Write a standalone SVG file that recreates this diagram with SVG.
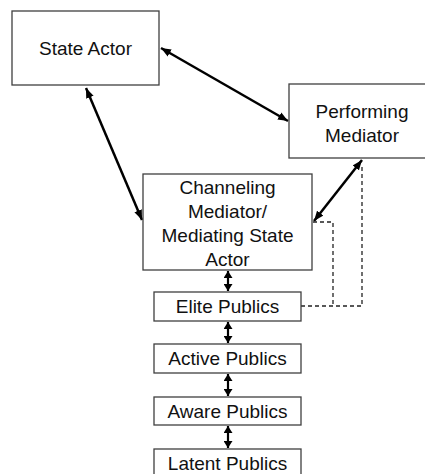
<svg xmlns="http://www.w3.org/2000/svg" width="425" height="474" viewBox="0 0 425 474">
<defs>
<style>
.box{fill:#fff;stroke:#3f3f3f;stroke-width:1.3}
.lbl{font-family:"Liberation Sans",Arial,sans-serif;font-size:19px;fill:#111;text-anchor:middle}
.big{stroke:#000;stroke-width:2.5;fill:none;marker-start:url(#ah);marker-end:url(#ah)}
.small{stroke:#000;stroke-width:2.2;fill:none;marker-start:url(#sh);marker-end:url(#sh)}
.dash{stroke:#222;stroke-width:1.3;fill:none;stroke-dasharray:4 3}
</style>
<marker id="ah" markerUnits="userSpaceOnUse" markerWidth="11" markerHeight="9" refX="10" refY="4" orient="auto-start-reverse" viewBox="0 0 11 8"><path d="M0,0 L10,4 L0,8 z" fill="#000"/></marker>
<marker id="sh" markerUnits="userSpaceOnUse" markerWidth="8" markerHeight="9" refX="7" refY="4.5" orient="auto-start-reverse" viewBox="0 0 8 9"><path d="M0,0 L7,4.5 L0,9 z" fill="#000"/></marker>
</defs>
<rect width="425" height="474" fill="#fff"/>
<g id="connectors">
<line class="big" x1="161" y1="48" x2="288" y2="121"/>
<line class="big" x1="86" y1="88" x2="142" y2="220"/>
<line class="big" x1="362" y1="160" x2="314" y2="221"/>
<line class="small" x1="228" y1="271" x2="228" y2="291"/>
<line class="small" x1="228" y1="322" x2="228" y2="343"/>
<line class="small" x1="228" y1="374" x2="228" y2="396"/>
<line class="small" x1="228" y1="426" x2="228" y2="448"/>
<path class="dash" d="M313,222 H333 V306"/>
<path class="dash" d="M301,306 H362 V165"/>
</g>
<g id="state-actor">
<rect class="box" x="12" y="11" width="147" height="74"/>
<text class="lbl" x="85.5" y="55">State Actor</text>
</g>
<g id="performing-mediator">
<rect class="box" x="289" y="84" width="146" height="74"/>
<text class="lbl" x="362" y="118">Performing</text>
<text class="lbl" x="362" y="142">Mediator</text>
</g>
<g id="channeling-mediator">
<rect class="box" x="143" y="174" width="169" height="96"/>
<text class="lbl" x="227.5" y="194">Channeling</text>
<text class="lbl" x="227.5" y="218">Mediator/</text>
<text class="lbl" x="227.5" y="242">Mediating State</text>
<text class="lbl" x="227.5" y="266">Actor</text>
</g>
<g id="elite-publics">
<rect class="box" x="154" y="292" width="147" height="29"/>
<text class="lbl" x="227.5" y="313">Elite Publics</text>
</g>
<g id="active-publics">
<rect class="box" x="154" y="344" width="147" height="29"/>
<text class="lbl" x="227.5" y="365">Active Publics</text>
</g>
<g id="aware-publics">
<rect class="box" x="154" y="397" width="147" height="28"/>
<text class="lbl" x="227.5" y="418">Aware Publics</text>
</g>
<g id="latent-publics">
<rect class="box" x="154" y="449" width="147" height="30"/>
<text class="lbl" x="227.5" y="470">Latent Publics</text>
</g>
</svg>
